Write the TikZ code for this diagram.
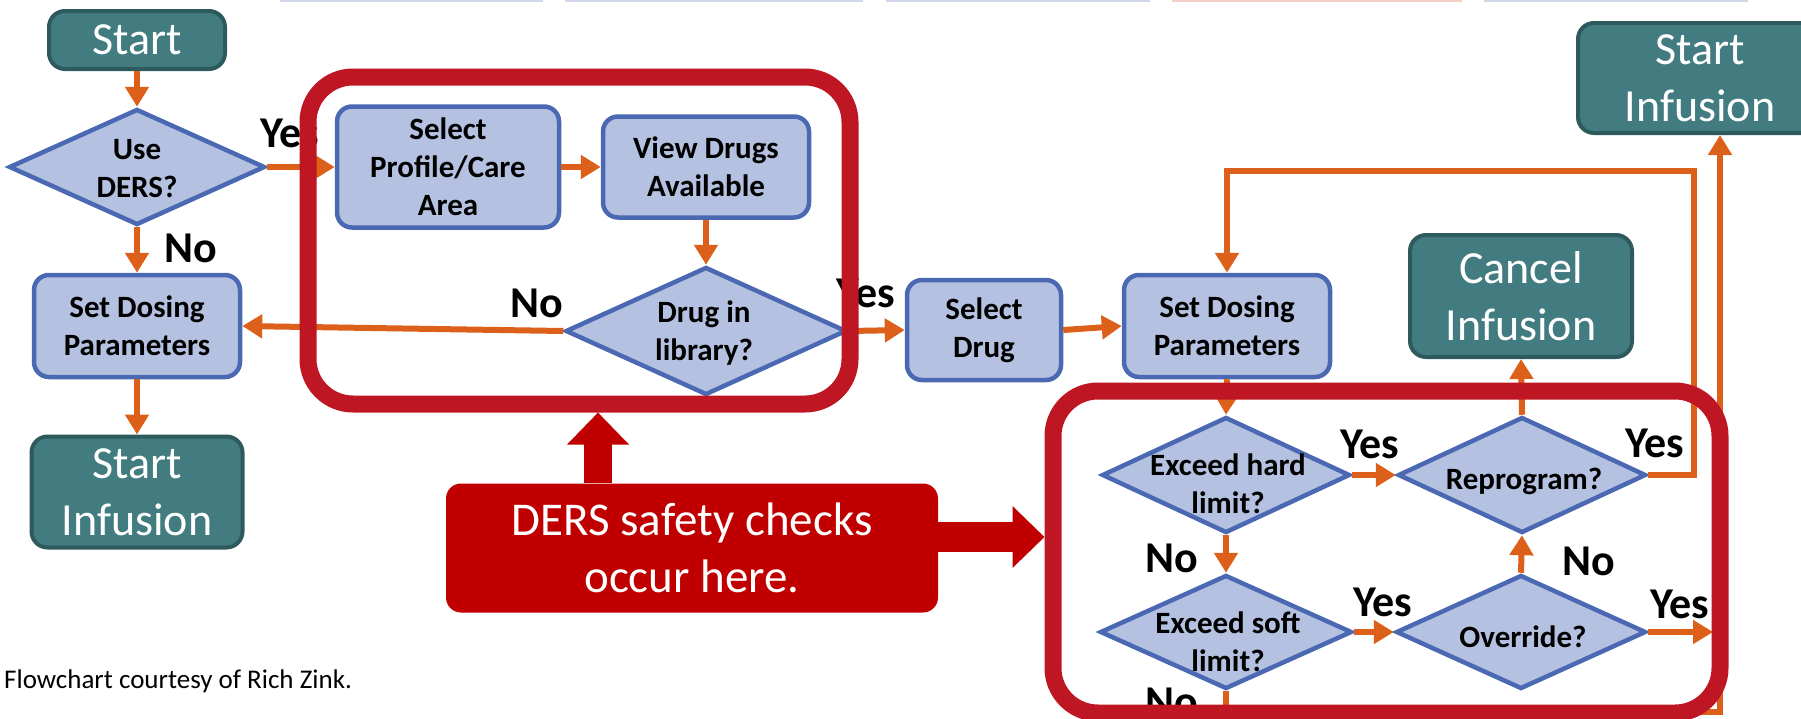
\documentclass[tikz,border=0pt]{standalone}
\usepackage{fontspec}
\setmainfont{Carlito}
\usetikzlibrary{shapes.geometric,arrows.meta}
\definecolor{tealfill}{HTML}{427C80}
\definecolor{tealline}{HTML}{2E5A5D}
\definecolor{bfill}{HTML}{B4C1E0}
\definecolor{bline}{HTML}{4A69B2}
\definecolor{orng}{HTML}{DD601A}
\definecolor{framered}{HTML}{BE1723}
\definecolor{dersred}{HTML}{C00000}
\definecolor{stripblue}{HTML}{D2D7EC}
\definecolor{stripsalmon}{HTML}{F5CFC5}
\begin{document}
\begin{tikzpicture}[x=1pt,y=-1pt,
  proc/.style={draw=bline, line width=4.5pt, fill=bfill, rounded corners=15pt, align=center, inner sep=0pt, font=\fontsize{31}{38}\selectfont\bfseries},
  term/.style={draw=tealline, line width=4pt, fill=tealfill, rounded corners=16pt, align=center, inner sep=0pt, text=white, font=\fontsize{46}{57}\selectfont},
  dec/.style={diamond, draw=bline, line width=4.5pt, fill=bfill, inner sep=0pt},
  dtext/.style={align=center, inner sep=0pt, font=\fontsize{31}{38}\selectfont\bfseries},
  lbl/.style={inner sep=0pt, font=\fontsize{44}{50}\selectfont\bfseries},
  flow/.style={draw=orng, line width=6pt, -{Triangle[width=23pt,length=20pt]}},
  safeframe/.style={draw=framered, line width=17pt, rounded corners=45pt, inner sep=0pt},
  bigarrow/.style={draw=dersred, -{Triangle[width=60pt,length=32pt]}},
  strip/.style={inner sep=0pt, minimum height=2pt}
]
\useasboundingbox (0,0) rectangle (1801,718);
\clip (0,0) rectangle (1801,718);

% faint strips at the top edge
\node[strip, fill=stripblue, minimum width=263pt] (s1) at (411.5,1) {};
\node[strip, fill=stripblue, minimum width=298pt] (s2) at (714,1) {};
\node[strip, fill=stripblue, minimum width=264pt] (s3) at (1018,1) {};
\node[strip, fill=stripsalmon, minimum width=290pt] (s4) at (1317,1) {};
\node[strip, fill=stripblue, minimum width=264pt] (s5) at (1616,1) {};

% left column
\node[term, minimum width=176pt, minimum height=58pt] (start) at (137,40) {Start};
\node[dec, minimum width=256pt, minimum height=116pt] (ud) at (137,167) {};
\node[dtext] (udt) at (137,169) {Use\\DERS?};
\node[proc, minimum width=206pt, minimum height=102pt] (sdl) at (137,326) {Set Dosing\\Parameters};
\node[term, minimum width=211pt, minimum height=111pt] (sil) at (137,492) {Start\\Infusion};

% first safety group
\node[proc, minimum width=222pt, minimum height=121pt] (spc) at (448,167) {Select\\Profile/Care\\Area};
\node[proc, minimum width=206pt, minimum height=101pt] (vda) at (706,167) {View Drugs\\Available};
\node[dec, minimum width=281pt, minimum height=128pt] (dil) at (706,331) {};
\node[dtext] (dilt) at (704,333) {Drug in\\library?};

\node[proc, minimum width=154pt, minimum height=100pt] (sd) at (984,330) {Select\\Drug};
\node[proc, minimum width=206pt, minimum height=102pt] (sdr) at (1227,326) {Set Dosing\\Parameters};
\node[term, minimum width=222pt, minimum height=122pt] (ci) at (1521,296) {Cancel\\Infusion};
\node[term, minimum width=244pt, minimum height=110pt] (sir) at (1700,78) {Start\\Infusion};

% second safety group
\node[dec, minimum width=248pt, minimum height=116pt] (ehl) at (1226,475) {};
\node[dtext] (ehlt) at (1228,484) {Exceed hard\\limit?};
\node[dec, minimum width=248pt, minimum height=116pt] (rp) at (1522,475) {};
\node[dtext] (rpt) at (1524,481) {Reprogram?};
\node[dec, minimum width=252pt, minimum height=114pt] (esl) at (1226,632) {};
\node[dtext] (eslt) at (1228,642) {Exceed soft\\limit?};
\node[dec, minimum width=250pt, minimum height=114pt] (ov) at (1521,632) {};
\node[dtext] (ovt) at (1523,637) {Override?};

\coordinate (loop) at (1694,171);
\coordinate (ovend) at (1713,632);
\coordinate (bottom) at (1720,712);

% connectors
\draw[flow] (start) -- (ud);
\draw[flow] (ud.east) -- (spc.west);
\draw[flow] (spc.east) -- (vda.west);
\draw[flow] (vda.south) -- (dil.north);
\draw[flow] (dil.west) -- (sdl.east);
\draw[flow] (ud.south) -- (sdl.north);
\draw[flow] (sdl.south) -- (sil.north);
\draw[flow] (dil.east) -- (sd.west);
\draw[flow] (sd.east) -- (sdr.west);
\draw[flow] (sdr.south) -- (ehl.north);
\draw[flow] (ehl.east) -- (rp.west);
\draw[flow] (ehl.south) -- (esl.north);
\draw[flow] (esl.east) -- (ov.west);
\draw[flow] (ov.north) -- (rp.south);
\draw[flow] (rp.north) -- (ci.south);
\draw[flow] (rp.east) -| (loop) -| (sdr.north);
\draw[flow] (ov.east) -- (ovend);
\draw[flow] (esl.south) |- (bottom) -- (bottom |- sir.south);

% labels
\node[lbl] (y1) at (290,133) {Yes};
\node[lbl] (n1) at (191,248) {No};
\node[lbl] (n2) at (537,303) {No};
\node[lbl] (y2) at (866,293) {Yes};
\node[lbl] (y3) at (1370,444) {Yes};
\node[lbl] (y4) at (1655,443) {Yes};
\node[lbl] (n3) at (1172,558) {No};
\node[lbl] (n4) at (1589,561) {No};
\node[lbl] (y5) at (1383,602) {Yes};
\node[lbl] (y6) at (1680,604) {Yes};
\node[lbl] (n5) at (1172,702) {No};

% safety frames
\node[safeframe, minimum width=542pt, minimum height=327pt] (box1) at (579,240.5) {};
\node[safeframe, minimum width=667pt, minimum height=322pt] (box2) at (1386.5,552) {};

% DERS callout
\node[fill=dersred, rounded corners=15pt, minimum width=492pt, minimum height=129pt, inner sep=0pt, align=center, text=white, font=\fontsize{47}{57}\selectfont] (ders) at (692,548) {DERS safety checks\\occur here.};
\coordinate (upx) at (598,0);
\coordinate (rty) at (0,537);
\draw[bigarrow, line width=28pt] (ders.north -| upx) -- (box1.south -| upx);
\draw[bigarrow, line width=30pt] (ders.east |- rty) -- (box2.west |- rty);

% footer
\node[anchor=base west, inner sep=0pt, font=\fontsize{27}{32}\selectfont] (foot) at (4,688) {Flowchart courtesy of Rich Zink.};
\end{tikzpicture}
\end{document}
